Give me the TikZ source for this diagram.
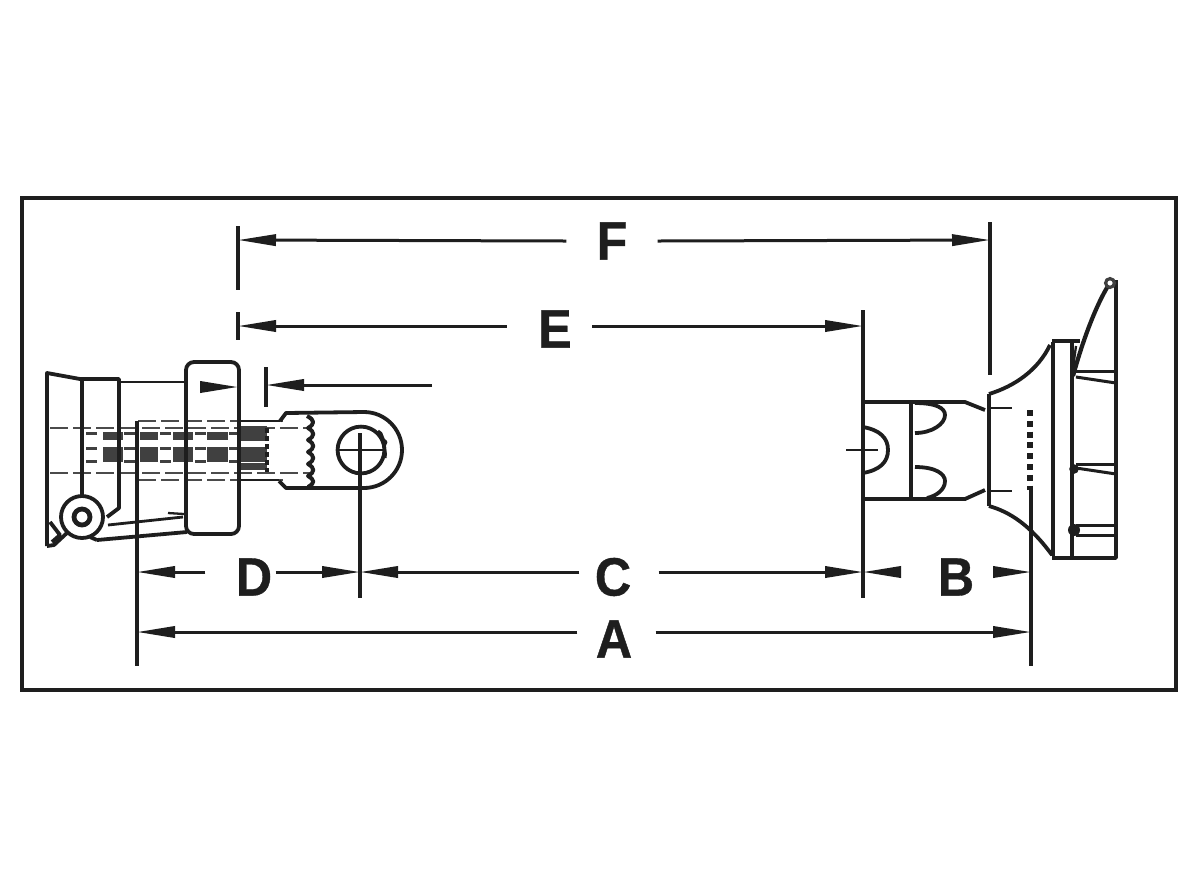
\documentclass[tikz,border=0pt]{standalone}
\usepackage{fontspec}
\setmainfont{Liberation Sans}[BoldFeatures={FakeBold=.7,FakeStretch=.93}]
\usetikzlibrary{arrows.meta}
\definecolor{ink}{HTML}{1E1E1E}
\tikzset{
  dimline/.style={draw=ink,line width=1.5pt},
  arrowline/.style={dimline,-{Triangle[length=19pt,width=5.6pt]}},
  extline/.style={draw=ink,line width=1.9pt},
  part/.style={draw=ink,line width=1.9pt,line join=round},
  thinpart/.style={draw=ink,line width=1.15pt},
  hidden/.style={draw=ink!80,line width=1.15pt,dash pattern=on 9pt off 2.5pt},
  letter/.style={font=\bfseries\fontsize{27}{27}\selectfont,text=ink,inner sep=0pt},
  block/.style={fill=ink!85,draw=none}
}
\begin{document}
\begin{tikzpicture}[x=.5pt,y=-.5pt]
\useasboundingbox (0,0) rectangle (1200,891);
\fill[white] (0,0) rectangle (1200,891);
\draw[draw=ink,line width=2.2pt] (22,198) rectangle (1176,690);

% ---- left assembly: hidden shaft and splines
\foreach \yy in {421,480}{\draw[hidden] (138,\yy) -- (283,\yy);}
\foreach \yy in {428,473}{\draw[hidden] (50,\yy) -- (310,\yy);}
\foreach \xx/\ww in {103/20,140/18,173/20,207/21,240/27}{
  \fill[block] (\xx,432) rectangle ++(\ww,8);
  \fill[block] (\xx,447) rectangle ++(\ww,15);
}
\foreach \xx in {86,124,160,195,229}{
  \fill[block] (\xx,432) rectangle ++(11,2.5);
  \fill[block] (\xx,447) rectangle ++(11,2.5);
  \fill[block] (\xx,460) rectangle ++(11,2.5);
}
\fill[block] (240,426) rectangle (267,441);
\fill[block] (240,463) rectangle (267,470);
\draw[draw=ink,line width=1.7pt,dash pattern=on 2.5pt off 1.5pt] (267,428) -- (267,472);
% flange
\draw[part] (47,546) -- (47,373) -- (80,379) -- (119,379) -- (119,508) -- (107,517);
\draw[part] (82,379) -- (82,495);
\draw[thinpart,line width=1.4pt] (119,382) -- (185,382);
% collar
\draw[part,fill=none,rounded corners=4pt] (186,362) rectangle (239,534);
% lug
\draw[part] (280,421) -- (286,413) -- (364,412) arc[start angle=90,end angle=-90,radius=19pt] -- (286,488) -- (279,481);
\draw[thinpart] (239,421) -- (280,421);
\draw[thinpart] (239,480) -- (279,480);
\draw[part,line width=2pt] (307,416)
  .. controls (315,420) and (315,424) .. (308,428)
  .. controls (315,432) and (315,436) .. (308,440)
  .. controls (315,444) and (315,448) .. (308,452)
  .. controls (315,456) and (315,460) .. (308,464)
  .. controls (315,468) and (315,472) .. (308,476)
  .. controls (315,480) and (315,483) .. (308,487);
\draw[part] (361,450) circle[radius=11.7pt];
\draw[thinpart] (337,450) -- (384,450);
\draw[part,line width=1.5pt] (378,431) .. controls (384,434) and (380,438) .. (386,442)
  .. controls (382,448) and (387,452) .. (385,458);
% eyelet and latch
\draw[part,fill=white] (82,517) circle[radius=10.5pt];
\draw[part,line width=2.4pt] (82,517) circle[radius=4pt];
\draw[part] (47,546) -- (54,545) -- (68,532);
\draw[part] (50,522) -- (60,535) -- (52,542);
\draw[part] (97,540) -- (187,532);
\draw[part,line width=1.4pt] (108,525) -- (183,517);
\draw[thinpart] (168,513) -- (184,514);
\draw[part] (97,540) -- (90,537);

% ---- right assembly
\draw[part] (863,402) -- (965,402) -- (985,410);
\draw[part] (863,499) -- (965,499) -- (985,490);
\draw[part] (911,402) -- (911,499);
\draw[part] (915,403) .. controls (936,403) and (945,408) .. (945,415) .. controls (945,424) and (932,433) .. (915,433);
\draw[part] (915,467) .. controls (936,467) and (945,474) .. (945,481) .. controls (945,490) and (936,496) .. (927,498);
\draw[part] (863,427) .. controls (880,430) and (888,438) .. (888,450) .. controls (888,462) and (880,470) .. (863,473);
\draw[thinpart] (846,450) -- (878,450);
\draw[part] (989,394) -- (989,506);
\draw[part] (989,394) .. controls (1015,386) and (1038,370) .. (1050,345);
\draw[part] (989,506) .. controls (1010,512) and (1030,525) .. (1052,555);
\draw[thinpart] (989,408) -- (1012,408);
\draw[thinpart] (989,491) -- (1012,491);
\draw[draw=ink,line width=2.6pt,dash pattern=on 3pt off 2.4pt] (1030,410) -- (1030,490);
\draw[part,line width=2.1pt] (1053,342) -- (1053,556);
\draw[part,line width=2.1pt] (1072,342) -- (1072,556);
\draw[part] (1052,341) -- (1080,341);
\draw[part] (1052,558) -- (1116,558) -- (1116,280);
\draw[part,line width=2.1pt] (1108,286) .. controls (1097,304) and (1084,336) .. (1073,376);
\draw[draw=ink!85,line width=1.6pt] (1110,283) circle[radius=2.2pt];
\draw[thinpart] (1076,346) -- (1073,368);
\draw[thinpart,line width=1.5pt] (1076,371) -- (1116,371);
\draw[thinpart,line width=1.5pt] (1076,377) -- (1116,383);
\draw[thinpart,line width=1.5pt] (1076,464) -- (1116,464);
\draw[thinpart,line width=1.5pt] (1076,468) -- (1116,474);
\draw[thinpart,line width=1.5pt] (1076,525) -- (1116,525);
\draw[thinpart,line width=1.5pt] (1076,535) -- (1116,535);
\fill[ink] (1074,469) circle[radius=2.4pt];
\fill[ink] (1074,530) circle[radius=3pt];

% ---- coordinates for dimensioning
\coordinate (fL) at (238,240); \coordinate (fR) at (990,240);
\coordinate (eL) at (238,326); \coordinate (eR) at (863,326);
\coordinate (d0) at (137,572); \coordinate (d1) at (360,572);
\coordinate (d2) at (863,572); \coordinate (d3) at (1031,572);
\coordinate (aL) at (137,632); \coordinate (aR) at (1031,632);
\coordinate (gapR) at (200,387); \coordinate (gapRt) at (238,387);
\coordinate (gapL) at (432,385); \coordinate (gapLt) at (266,385);

% ---- letters
\node[letter] (F) at (612,241) {F};
\node[letter] (E) at (555,329) {E};
\node[letter] (D) at (254,577) {D};
\node[letter] (C) at (613,577) {C};
\node[letter] (B) at (956,577) {B};
\node[letter] (A) at (614,639) {A};

% ---- extension lines
\draw[extline] (238,226) -- (238,290);
\draw[extline] (238,312) -- (238,340);
\draw[extline] (990,222) -- (990,375);
\draw[extline] (863,310) -- (863,598);
\draw[extline] (137,421) -- (137,666);
\draw[extline] (360,433) -- (360,598);
\draw[extline] (1031,490) -- (1031,666);
\draw[extline] (266,367) -- (266,407);

% ---- dimension lines
\draw[arrowline] (F.west) ++(-30,0) -- (fL);
\draw[arrowline] (F.east) ++(30,0) -- (fR);
\draw[arrowline] (E.west) ++(-31,-3) -- (eL);
\draw[arrowline] (E.east) ++(20,-3) -- (eR);
\draw[arrowline] (D.west) ++(-30,-5) -- (d0);
\draw[arrowline] (D.east) ++(3,-5) -- (d1);
\draw[arrowline] (C.west) ++(-15,-5) -- (d1);
\draw[arrowline] (C.east) ++(27,-5) -- (d2);
\draw[arrowline] (B.west) ++(-40,-5) -- (d2);
\draw[arrowline] (B.east) ++(22,-5) -- (d3);
\draw[arrowline] (A.west) ++(-18,-7) -- (aL);
\draw[arrowline] (A.east) ++(23,-7) -- (aR);
\draw[arrowline] (gapR) -- (gapRt);
\draw[arrowline] (gapL) -- (gapLt);
\end{tikzpicture}
\end{document}
